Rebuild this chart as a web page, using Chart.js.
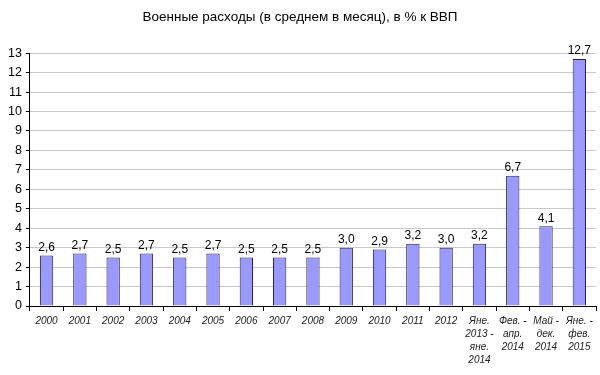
<!DOCTYPE html>
<html>
<head>
<meta charset="utf-8">
<script src="https://cdn.jsdelivr.net/npm/chart.js@4"></script>
<style>
    body { margin: 0; background: #fff; }
    #chart { display: block; }
</style>
</head>
<body>
<canvas id="chart" width="600" height="375"></canvas>
<script>
var titleText = 'Военные расходы (в среднем в месяц), в % к ВВП';
var categories = [
    '2000', '2001', '2002', '2003', '2004', '2005', '2006', '2007', '2008',
    '2009', '2010', '2011', '2012',
    ['Яне.', '2013 -', 'яне.', '2014'],
    ['Фев. -', 'апр.', '2014'],
    ['Май -', 'дек.', '2014'],
    ['Яне. -', 'фев.', '2015']
];
var values = [2.6, 2.7, 2.5, 2.7, 2.5, 2.7, 2.5, 2.5, 2.5, 3.0, 2.9, 3.2, 3.0, 3.2, 6.7, 4.1, 12.7];
var yMax = 13;

// подписи значений над столбцами, с запятой
var valueLabels = {
    id: 'valueLabels',
    afterDatasetsDraw: function(chart) {
        let ctx = chart.ctx;
        let meta = chart.getDatasetMeta(0);
        ctx.save();
        ctx.font = '12px "Liberation Sans", Arial, sans-serif';
        ctx.fillStyle = '#000';
        ctx.textAlign = 'center';
        ctx.textBaseline = 'bottom';
        meta.data.forEach((bar, i) => {
            let txt = values[i].toFixed(1).replace('.', ',');
            ctx.fillText(txt, bar.x, bar.y - 2);
        });
        ctx.restore();
    }
};

var ctx = document.getElementById('chart').getContext('2d');

new Chart(ctx, {
    type: 'bar',
    data: {
        labels: categories,
        datasets: [{
            data: values,
            backgroundColor: '#9999ff',
            borderColor: '#22224a',
            borderWidth: 1,
            borderSkipped: 'bottom',
            categoryPercentage: 1,
            barPercentage: 0.4
        }]
    },
    options: {
        responsive: false,
        animation: false,
        layout: {
            padding: {left: 4, right: 4, top: 0, bottom: 4}
        },
        plugins: {
            legend: { display: false },
            tooltip: { enabled: false },
            title: {
                display: true,
                text: titleText,
                color: '#000',
                font: { size: 13.5, weight: 'normal', family: '"Liberation Sans", Arial, sans-serif' },
                padding: { top: 9, bottom: 28 }
            }
        },
        scales: {
            y: {
                min: 0,
                max: yMax,
                ticks: {
                    stepSize: 1,
                    color: '#000',
                    padding: 4,
                    font: { size: 12.5, family: '"Liberation Sans", Arial, sans-serif' }
                },
                grid: {
                    color: '#c8c8c8',
                    tickColor: '#000',
                    tickLength: 4
                },
                border: { color: '#000' }
            },
            x: {
                ticks: {
                    color: '#222',
                    autoSkip: false,
                    maxRotation: 0,
                    padding: 4,
                    font: { size: 10, style: 'italic', family: '"Liberation Sans", Arial, sans-serif', lineHeight: 1.3 }
                },
                grid: {
                    offset: true,
                    drawOnChartArea: false,
                    tickColor: '#000',
                    tickLength: 5
                },
                border: { color: '#000' }
            }
        }
    },
    plugins: [valueLabels]
});
</script>
</body>
</html>
